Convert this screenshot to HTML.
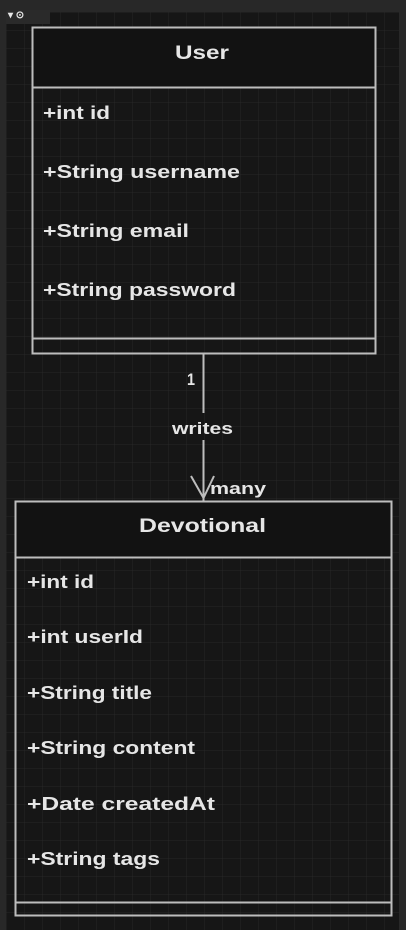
<!DOCTYPE html>
<html><head><style>
html,body{margin:0;padding:0;background:#282828;}
svg{display:block}
text{font-family:"Liberation Sans",sans-serif;fill:#e6e6e6;font-weight:bold;}
</style></head><body>
<svg width="406" height="930" xmlns="http://www.w3.org/2000/svg">
<defs>
<pattern id="g" width="18" height="18" patternUnits="userSpaceOnUse" x="6" y="12">
<rect width="18" height="18" fill="#161616"/>
<path d="M0 0H18M0 0V18" stroke="#272727" stroke-width="1"/>
</pattern>
</defs>
<rect x="0" y="0" width="406" height="930" fill="#282828"/>
<rect x="6" y="12" width="393" height="918" fill="url(#g)"/>
<rect x="6" y="10" width="44" height="14" fill="#2a2a2a"/>
<text x="8" y="18" font-size="10" fill="#ccc">▾ ⊙</text>
<!-- User -->
<rect x="32.5" y="27.5" width="343" height="326" fill="none" stroke="#bdbdbd" stroke-width="2"/>
<rect x="33.5" y="28.5" width="341" height="58" fill="#121212"/>
<line x1="32" y1="87.5" x2="376" y2="87.5" stroke="#bdbdbd" stroke-width="2"/>
<line x1="32" y1="338.5" x2="376" y2="338.5" stroke="#bdbdbd" stroke-width="2"/>
<text x="175" y="59" font-size="19" textLength="54" lengthAdjust="spacingAndGlyphs">User</text>
<text x="43" y="119" font-size="18" textLength="67" lengthAdjust="spacingAndGlyphs">+int id</text>
<text x="43" y="178" font-size="18" textLength="197" lengthAdjust="spacingAndGlyphs">+String username</text>
<text x="43" y="237" font-size="18" textLength="146" lengthAdjust="spacingAndGlyphs">+String email</text>
<text x="43" y="296" font-size="18" textLength="193" lengthAdjust="spacingAndGlyphs">+String password</text>
<!-- connector -->
<line x1="203.5" y1="354" x2="203.5" y2="413" stroke="#bdbdbd" stroke-width="2"/>
<line x1="203.5" y1="440" x2="203.5" y2="501" stroke="#bdbdbd" stroke-width="2"/>
<polyline points="191,476 203.5,498 214,476" fill="none" stroke="#bdbdbd" stroke-width="2"/>
<text x="187" y="385" font-size="17" textLength="8" lengthAdjust="spacingAndGlyphs">1</text>
<text x="172" y="434" font-size="17" textLength="61" lengthAdjust="spacingAndGlyphs">writes</text>
<text x="210" y="494" font-size="17" textLength="56" lengthAdjust="spacingAndGlyphs">many</text>
<!-- Devotional -->
<rect x="15.5" y="501.5" width="376" height="414" fill="none" stroke="#bdbdbd" stroke-width="2"/>
<rect x="16.5" y="502.5" width="374" height="54" fill="#121212"/>
<line x1="15" y1="557.5" x2="392" y2="557.5" stroke="#bdbdbd" stroke-width="2"/>
<line x1="15" y1="902.5" x2="392" y2="902.5" stroke="#bdbdbd" stroke-width="2"/>
<text x="139" y="532" font-size="19" textLength="127" lengthAdjust="spacingAndGlyphs">Devotional</text>
<text x="27" y="588" font-size="18" textLength="67" lengthAdjust="spacingAndGlyphs">+int id</text>
<text x="27" y="643" font-size="18" textLength="116" lengthAdjust="spacingAndGlyphs">+int userId</text>
<text x="27" y="699" font-size="18" textLength="125" lengthAdjust="spacingAndGlyphs">+String title</text>
<text x="27" y="754" font-size="18" textLength="168" lengthAdjust="spacingAndGlyphs">+String content</text>
<text x="27" y="810" font-size="18" textLength="188" lengthAdjust="spacingAndGlyphs">+Date createdAt</text>
<text x="27" y="865" font-size="18" textLength="133" lengthAdjust="spacingAndGlyphs">+String tags</text>
</svg>
</body></html>
